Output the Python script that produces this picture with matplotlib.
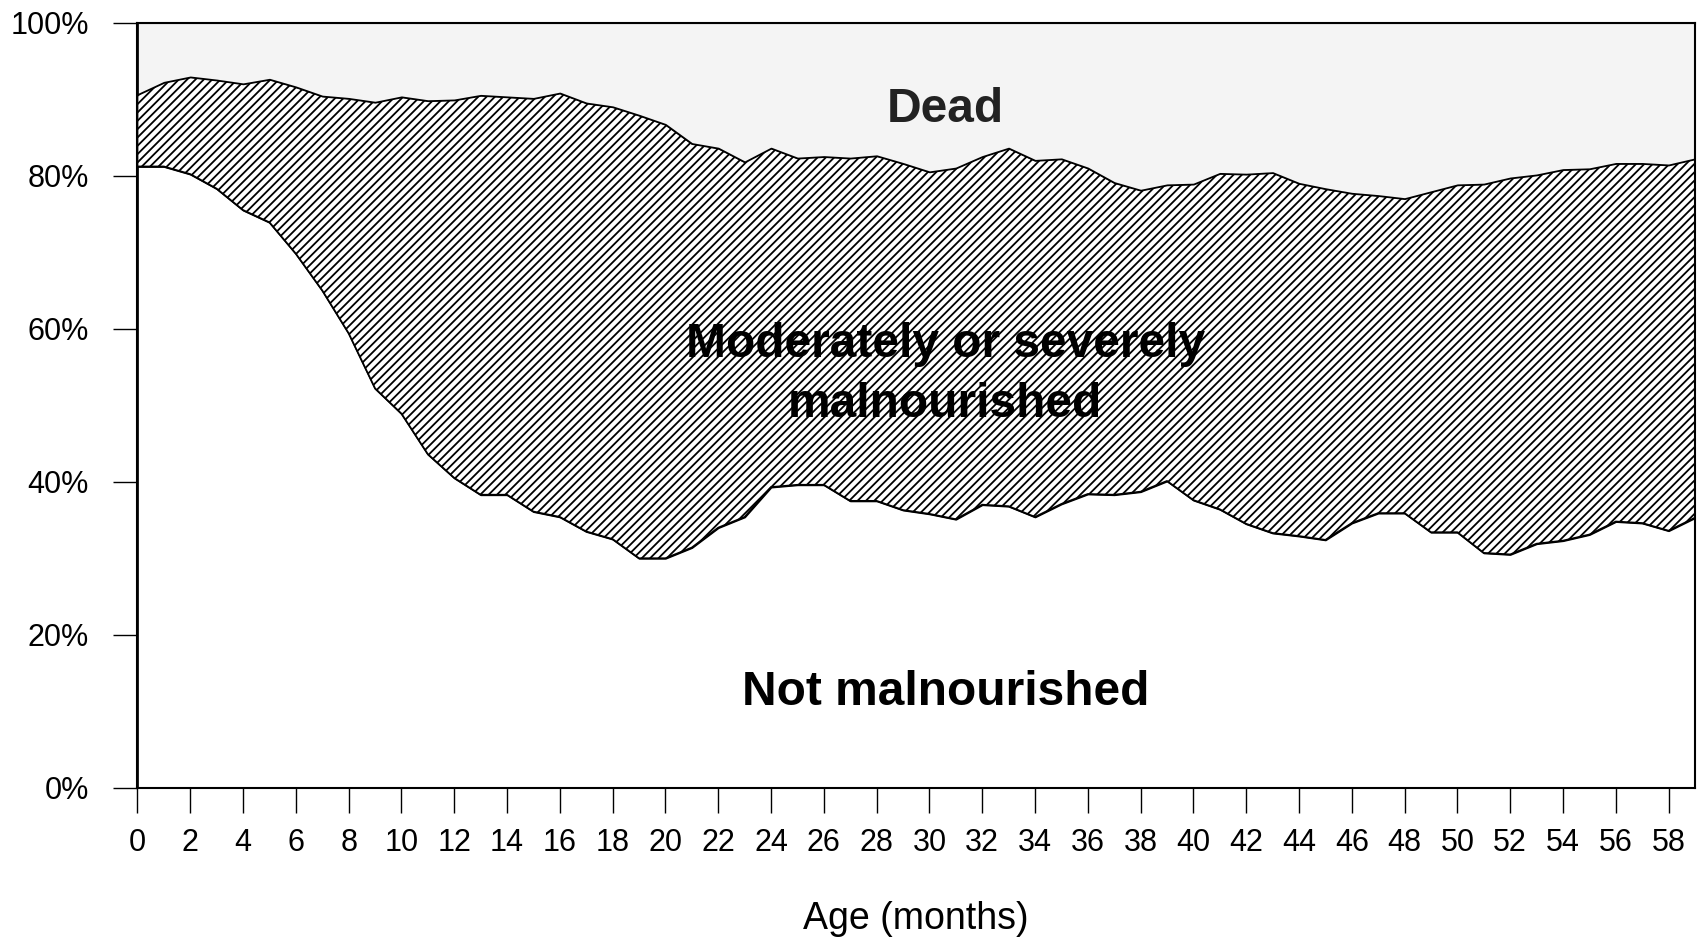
import matplotlib
matplotlib.use("Agg")
import matplotlib.pyplot as plt
from matplotlib.ticker import FuncFormatter

# age in months
age = list(range(60))

# share of children (%) in each state, bottom to top
not_malnourished = [81.2, 81.2, 80.2, 78.3, 75.5, 73.9, 69.8, 65.0, 59.4, 52.2,
                    48.9, 43.6, 40.5, 38.3, 38.3, 36.1, 35.4, 33.5, 32.5, 30.0,
                    30.0, 31.4, 34.0, 35.4, 39.3, 39.6, 39.6, 37.5, 37.5, 36.3,
                    35.8, 35.1, 37.0, 36.8, 35.4, 37.1, 38.4, 38.3, 38.7, 40.1,
                    37.6, 36.4, 34.5, 33.3, 32.9, 32.4, 34.6, 35.9, 35.9, 33.4,
                    33.4, 30.7, 30.5, 31.9, 32.3, 33.1, 34.8, 34.6, 33.6, 35.3]
malnourished = [9.4, 11.0, 12.7, 14.2, 16.5, 18.7, 21.8, 25.4, 30.7, 37.4,
                41.4, 46.2, 49.4, 52.2, 52.0, 54.0, 55.4, 56.0, 56.5, 57.9,
                56.7, 52.8, 49.6, 46.4, 44.3, 42.7, 42.9, 44.8, 45.1, 45.3,
                44.7, 45.9, 45.5, 46.8, 46.6, 45.1, 42.6, 40.8, 39.4, 38.7,
                41.3, 43.9, 45.7, 47.1, 46.1, 45.9, 43.1, 41.5, 41.1, 44.5,
                45.4, 48.2, 49.2, 48.2, 48.5, 47.8, 46.8, 47.0, 47.8, 46.9]
dead = [100 - a - b for a, b in zip(not_malnourished, malnourished)]

plt.rcParams['font.family'] = ['Liberation Sans', 'DejaVu Sans']
plt.rcParams['hatch.linewidth'] = 1.3
plt.rcParams['hatch.color'] = 'black'

fig = plt.figure(figsize=(16.97, 9.39), dpi=100)
ax = fig.add_axes([0.081, 0.161, 0.9178, 0.8149])

polys = ax.stackplot(age, not_malnourished, malnourished, dead,
                     colors=['white', 'white', '#f4f4f4'],
                     edgecolor='black', linewidth=1.3)
polys[1].set_hatch('////')

ax.set_xlim(0, 59)
ax.set_ylim(0, 100)
ax.set_xticks(range(0, 59, 2))
ax.set_yticks(range(0, 101, 20))
ax.yaxis.set_major_formatter(FuncFormatter(lambda v, p: '%d%%' % v))
ax.tick_params(axis='x', length=18, width=1, pad=11, labelsize=22)
ax.tick_params(axis='y', length=17, width=1, pad=18, labelsize=22)
for s in ax.spines.values():
    s.set_linewidth(1.5)

ax.set_xlabel('Age (months)', fontsize=27, labelpad=31)

ax.text(30.6, 88.7, 'Dead', ha='center', va='center', fontsize=34.5,
        fontweight='bold', color='#222222')
ax.text(30.6, 54.0, 'Moderately or severely\nmalnourished', ha='center',
        va='center', fontsize=34.5, fontweight='bold', color='black',
        linespacing=1.42)
ax.text(30.6, 12.5, 'Not malnourished', ha='center', va='center',
        fontsize=34.5, fontweight='bold', color='black')

fig.savefig('out.png', dpi=100)
